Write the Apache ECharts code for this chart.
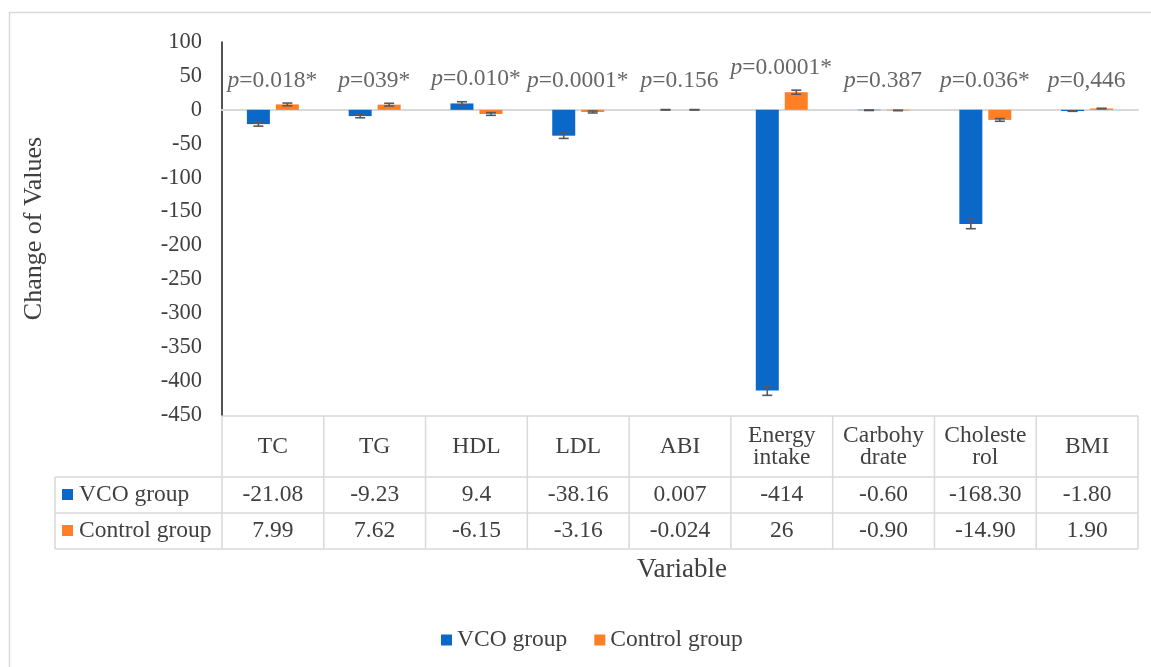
<!DOCTYPE html>
<html>
<head>
<meta charset="utf-8">
<script src="https://cdn.jsdelivr.net/npm/echarts@6/dist/echarts.min.js"></script>
<style>
html,body{margin:0;padding:0;background:#fff;}
#c{width:1151px;height:667px;}
</style>
</head>
<body>
<div id="c"></div>
<script>
// ---- data ----
const categories = ['TC', 'TG', 'HDL', 'LDL', 'ABI', 'Energy\nintake', 'Carbohy\ndrate', 'Choleste\nrol', 'BMI'];
const vcoText = ['-21.08', '-9.23', '9.4', '-38.16', '0.007', '-414', '-0.60', '-168.30', '-1.80'];
const controlText = ['7.99', '7.62', '-6.15', '-3.16', '-0.024', '26', '-0.90', '-14.90', '1.90'];
const vcoValues = vcoText.map(Number);
const controlValues = controlText.map(Number);
const vcoErr = [3, 2.5, 2.5, 4, 0.4, 7, 0.4, 7, 0.4];
const controlErr = [2, 2, 2, 1.5, 0.4, 3, 0.4, 2, 0.4];
const pLabels = ['0.018*', '039*', '0.010*', '0.0001*', '0.156', '0.0001*', '0.387', '0.036*', '0,446'];
const yTicks = { min: -450, max: 100, interval: 50 };
const seriesNames = ['VCO group', 'Control group'];

// ---- style / layout ----
const FONT = "'Liberation Serif','Times New Roman',serif";
const TXT = '#404040';
const BLUE = '#0A68C8';
const ORANGE = '#FF7F27';
const LINE = '#d9d9d9';
const FS = 23.5;
const G = { left: 222, top: 42, width: 916, height: 373 };
const BAR_W = 23, BAR_OFF = 14.5;

const chart = echarts.init(document.getElementById('c'));

function errSeries(name, vals, errs, dx) {
  return {
    type: 'custom', name: name + ' err', xAxisIndex: 0, yAxisIndex: 0, silent: true, z: 5,
    data: vals.map((v, i) => [i, v, errs[i]]),
    renderItem: function (params, api) {
      const i = api.value(0), v = api.value(1), e = api.value(2);
      const p1 = api.coord([i, v + e]);
      const p2 = api.coord([i, v - e]);
      const x = p1[0] + dx;
      const st = { stroke: '#595959', lineWidth: 1.6 };
      return {
        type: 'group', children: [
          { type: 'line', shape: { x1: x, y1: p1[1], x2: x, y2: p2[1] }, style: st },
          { type: 'line', shape: { x1: x - 5, y1: p1[1], x2: x + 5, y2: p1[1] }, style: st },
          { type: 'line', shape: { x1: x - 5, y1: p2[1], x2: x + 5, y2: p2[1] }, style: st }
        ]
      };
    }
  };
}

const pAnchor = categories.map((c, i) => Math.max(10, vcoValues[i] + vcoErr[i], controlValues[i] + controlErr[i]));

function tableAxis(margin, formatter) {
  return {
    type: 'category', data: categories, gridIndex: 0, position: 'bottom',
    axisLine: { show: false, onZero: false }, axisTick: { show: false },
    axisLabel: {
      interval: 0, margin: margin, verticalAlign: 'middle', align: 'center',
      fontFamily: FONT, fontSize: FS, color: TXT, lineHeight: 22,
      formatter: formatter
    },
    splitLine: { show: false }
  };
}

const option = {
  animation: false,
  backgroundColor: '#fff',
  color: [BLUE, ORANGE],
  grid: { left: G.left, top: G.top, width: G.width, height: G.height, containLabel: false },
  legend: {
    data: seriesNames, left: 436, top: 623, itemWidth: 11, itemHeight: 11, itemGap: 27,
    icon: 'rect',
    textStyle: { fontFamily: FONT, fontSize: FS, color: TXT }
  },
  xAxis: [
    {
      type: 'category', data: categories,
      axisLine: { show: true, onZero: true, lineStyle: { color: LINE, width: 2 } },
      axisTick: { show: false }, axisLabel: { show: false }, splitLine: { show: false }
    },
    tableAxis(32, (v) => v),
    tableAxis(80, (v, i) => vcoText[i]),
    tableAxis(116, (v, i) => controlText[i])
  ],
  yAxis: {
    type: 'value', min: yTicks.min, max: yTicks.max, interval: yTicks.interval,
    name: 'Change of Values', nameLocation: 'middle', nameGap: 175,
    nameTextStyle: { fontFamily: FONT, fontSize: 26, color: TXT },
    axisLine: { show: true, lineStyle: { color: '#1a1a1a', width: 1.5 } },
    axisTick: { show: false },
    axisLabel: { fontFamily: FONT, fontSize: 22.5, color: TXT, margin: 20 },
    splitLine: { show: false }
  },
  series: [
    { type: 'bar', name: seriesNames[0], data: vcoValues, barWidth: BAR_W, barGap: '26%', itemStyle: { color: BLUE } },
    { type: 'bar', name: seriesNames[1], data: controlValues, barWidth: BAR_W, barGap: '26%', itemStyle: { color: ORANGE } },
    errSeries('vco', vcoValues, vcoErr, -BAR_OFF),
    errSeries('ctl', controlValues, controlErr, BAR_OFF),
    {
      type: 'scatter', name: 'p', silent: true, symbolSize: 1, itemStyle: { color: 'rgba(0,0,0,0)' },
      data: pAnchor.map((v, i) => [i, v]),
      label: {
        show: true, position: [0, -22], align: 'center', verticalAlign: 'middle',
        formatter: (p) => '{i|p}{n|=' + pLabels[p.dataIndex] + '}',
        rich: {
          i: { fontFamily: FONT, fontSize: FS, fontStyle: 'italic', color: TXT },
          n: { fontFamily: FONT, fontSize: FS, color: TXT }
        }
      }
    }
  ],
  graphic: []
};

chart.setOption(option);

// ---- table grid lines, legend keys, border, x title ----
const colW = G.width / categories.length;
const tTop = 416, hBot = 477, r1Bot = 513, r2Bot = 549, tLeft = 55;
const right = G.left + G.width;
const gfx = [];
const ls = { stroke: LINE, lineWidth: 1.5 };
function hl(x1, x2, y) { gfx.push({ type: 'line', silent: true, shape: { x1: x1, y1: y, x2: x2, y2: y }, style: ls }); }
function vl(x, y1, y2) { gfx.push({ type: 'line', silent: true, shape: { x1: x, y1: y1, x2: x, y2: y2 }, style: ls }); }
hl(G.left, right, tTop);
hl(tLeft, right, hBot);
hl(tLeft, right, r1Bot);
hl(tLeft, right, r2Bot);
vl(tLeft, hBot, r2Bot);
for (let k = 0; k <= categories.length; k++) vl(G.left + k * colW, tTop, r2Bot);
// outer border
gfx.push({ type: 'rect', silent: true, shape: { x: 9.5, y: 12.5, width: 1160, height: 680 }, style: { fill: 'none', stroke: LINE, lineWidth: 1.5 } });
// row keys
[[BLUE, seriesNames[0], (hBot + r1Bot) / 2], [ORANGE, seriesNames[1], (r1Bot + r2Bot) / 2]].forEach(function (r) {
  gfx.push({ type: 'rect', silent: true, shape: { x: 62, y: r[2] - 6, width: 11, height: 11 }, style: { fill: r[0] } });
  gfx.push({ type: 'text', silent: true, x: 79, y: r[2], style: { text: r[1], fontFamily: FONT, fontSize: FS, fill: TXT, align: 'left', verticalAlign: 'middle' } });
});
// x axis title
gfx.push({ type: 'text', silent: true, x: 682, y: 570, style: { text: 'Variable', fontFamily: FONT, fontSize: 27, fill: TXT, align: 'center', verticalAlign: 'middle' } });
chart.setOption({ graphic: gfx });
</script>
</body>
</html>
